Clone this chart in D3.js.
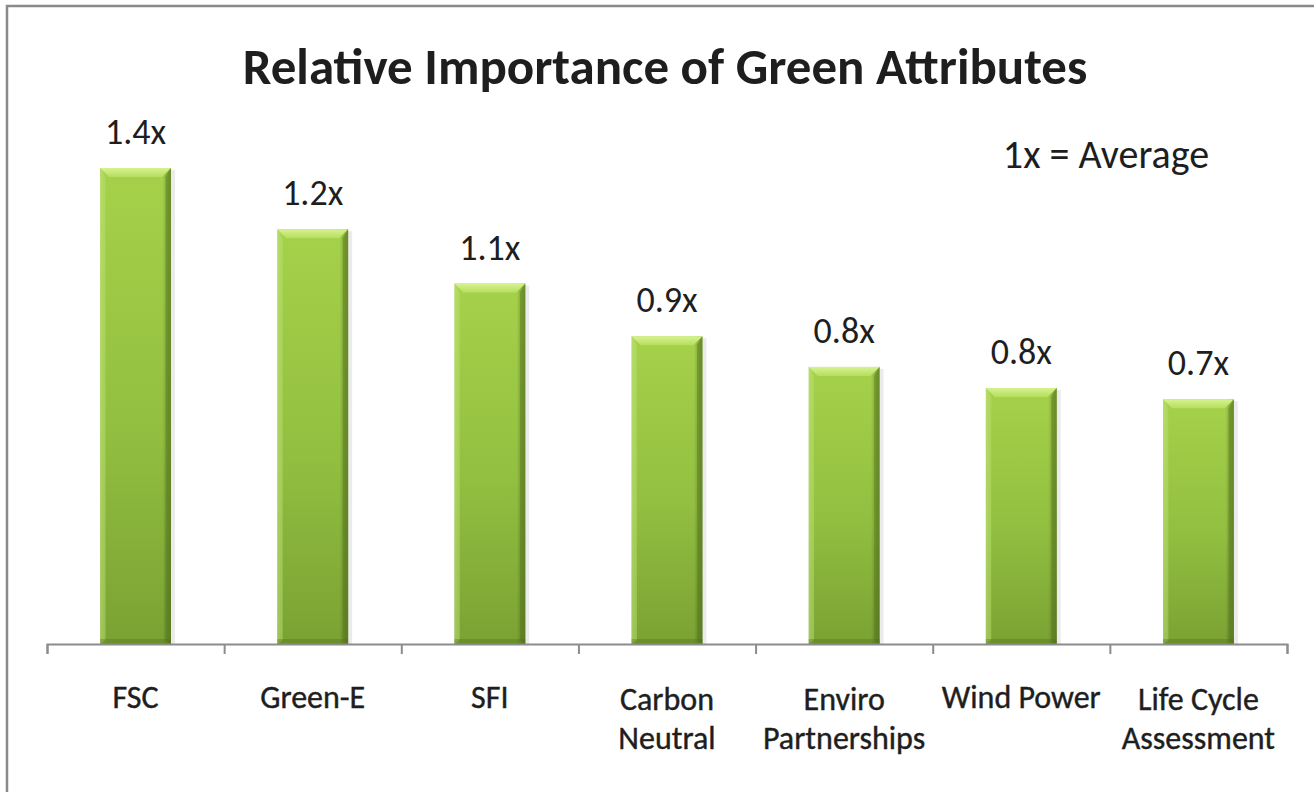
<!DOCTYPE html>
<html>
<head>
<meta charset="utf-8">
<script src="https://cdn.jsdelivr.net/npm/d3@7"></script>
<style>
  html, body { margin: 0; padding: 0; background: #fff; }
  svg { display: block; }
  text { font-family: Calibri, Carlito, Lato, "Open Sans", sans-serif; fill: #1e1e1e; }
</style>
</head>
<body>
<svg id="chart" width="1314" height="792"></svg>
<script>
// ---- data ----
const categories = ["FSC", "Green-E", "SFI", "Carbon\nNeutral", "Enviro\nPartnerships", "Wind Power", "Life Cycle\nAssessment"];
const values = [1.40, 1.22, 1.06, 0.905, 0.815, 0.753, 0.72];
const valueLabels = ["1.4x", "1.2x", "1.1x", "0.9x", "0.8x", "0.8x", "0.7x"];
const chartTitle = "Relative Importance of Green Attributes";
const noteText = "1x = Average";

// ---- layout ----
const W = 1314, H = 792;
const plot = { left: 47, right: 1287, top: 100, bottom: 644 };

const svg = d3.select("#chart");

// outer frame (extends past right/bottom edges as in reference)
svg.append("rect")
  .attr("x", 7).attr("y", 6)
  .attr("width", W + 20).attr("height", H + 20)
  .attr("fill", "#fff")
  .attr("stroke", "#8a8a8a")
  .attr("stroke-width", 2.5);

const defs = svg.append("defs");
const bodyGrad = defs.append("linearGradient").attr("id", "barBody")
  .attr("x1", 0).attr("y1", 0).attr("x2", 0).attr("y2", 1);
bodyGrad.append("stop").attr("offset", "0%").attr("stop-color", "#a5d14a");
bodyGrad.append("stop").attr("offset", "55%").attr("stop-color", "#92bf40");
bodyGrad.append("stop").attr("offset", "100%").attr("stop-color", "#7aa233");

const sideGrad = defs.append("linearGradient").attr("id", "barSide")
  .attr("x1", 0).attr("y1", 0).attr("x2", 1).attr("y2", 0);
sideGrad.append("stop").attr("offset", "0%").attr("stop-color", "#ffffff").attr("stop-opacity", 0.18);
sideGrad.append("stop").attr("offset", "8%").attr("stop-color", "#ffffff").attr("stop-opacity", 0.0);
sideGrad.append("stop").attr("offset", "88%").attr("stop-color", "#000000").attr("stop-opacity", 0.0);
sideGrad.append("stop").attr("offset", "100%").attr("stop-color", "#2d4010").attr("stop-opacity", 0.35);

const topGrad = defs.append("linearGradient").attr("id", "barTop")
  .attr("x1", 0).attr("y1", 0).attr("x2", 0).attr("y2", 1);
topGrad.append("stop").attr("offset", "0%").attr("stop-color", "#d6f290");
topGrad.append("stop").attr("offset", "100%").attr("stop-color", "#b6de5e");

const x = d3.scaleBand()
  .domain(d3.range(categories.length))
  .range([plot.left, plot.right])
  .paddingInner(0).paddingOuter(0);

const y = d3.scaleLinear().domain([0, 1.6]).range([plot.bottom, plot.top]);

const barW = x.bandwidth() * 0.40;
const bev = 9;

const bars = svg.append("g").selectAll("g.bar")
  .data(values)
  .join("g")
  .attr("class", "bar")
  .attr("transform", (d, i) => `translate(${x(i) + (x.bandwidth() - barW) / 2},0)`);

// soft shadow
bars.append("rect")
  .attr("x", 2).attr("y", d => y(d) + 2)
  .attr("width", barW + 2).attr("height", d => y(0) - y(d) - 2)
  .attr("fill", "#000").attr("opacity", 0.08);

bars.append("rect")
  .attr("x", 0).attr("y", d => y(d))
  .attr("width", barW).attr("height", d => y(0) - y(d))
  .attr("fill", "url(#barBody)");

bars.append("rect")
  .attr("x", 0).attr("y", d => y(d))
  .attr("width", barW).attr("height", d => y(0) - y(d))
  .attr("fill", "url(#barSide)");

// top bevel
bars.append("path")
  .attr("d", d => {
    const t = y(d);
    return `M0,${t} L${barW},${t} L${barW - bev},${t + bev} L${bev},${t + bev} Z`;
  })
  .attr("fill", "url(#barTop)");
// left bevel
bars.append("path")
  .attr("d", d => {
    const t = y(d), b = y(0);
    return `M0,${t} L${bev * 0.6},${t + bev} L${bev * 0.6},${b - 4} L0,${b} Z`;
  })
  .attr("fill", "#b9df6a").attr("opacity", 0.45);
// right bevel
bars.append("path")
  .attr("d", d => {
    const t = y(d), b = y(0);
    return `M${barW},${t} L${barW - bev * 0.6},${t + bev} L${barW - bev * 0.6},${b - 4} L${barW},${b} Z`;
  })
  .attr("fill", "#56781f").attr("opacity", 0.45);
// bottom bevel
bars.append("rect")
  .attr("x", 0).attr("y", y(0) - 5)
  .attr("width", barW).attr("height", 5)
  .attr("fill", "#4e6e1c").attr("opacity", 0.35);

// value labels
svg.append("g").selectAll("text")
  .data(values)
  .join("text")
  .attr("x", (d, i) => x(i) + x.bandwidth() / 2)
  .attr("y", d => y(d) - 24)
  .attr("text-anchor", "middle")
  .attr("font-size", 36)
  .attr("fill", "#2a2a2a")
  .text((d, i) => valueLabels[i]);

// x axis with ticks at category boundaries
const xEdges = d3.scaleLinear().domain([0, categories.length]).range([plot.left, plot.right]);
const axisG = svg.append("g")
  .attr("transform", `translate(0,${plot.bottom})`)
  .call(d3.axisBottom(xEdges).ticks(categories.length).tickSize(10).tickSizeOuter(10).tickFormat(""));
axisG.select(".domain").attr("stroke", "#8c8c8c").attr("stroke-width", 2);
axisG.selectAll(".tick line").attr("stroke", "#8c8c8c").attr("stroke-width", 2);

// category labels
const catG = svg.append("g").selectAll("text")
  .data(categories)
  .join("text")
  .attr("x", (d, i) => x(i) + x.bandwidth() / 2)
  .attr("y", 708)
  .attr("text-anchor", "middle")
  .attr("font-size", 32)
  .attr("fill", "#1e1e1e")
  .attr("stroke", "#1e1e1e").attr("stroke-width", 0.4);
catG.each(function (d) {
  const lines = d.split("\n");
  const t = d3.select(this);
  lines.forEach((ln, k) => {
    t.append("tspan")
      .attr("x", t.attr("x"))
      .attr("dy", k === 0 ? (lines.length > 1 ? 2 : 0) : 39)
      .text(ln);
  });
});

// title
svg.append("text")
  .attr("x", 665).attr("y", 84)
  .attr("text-anchor", "middle")
  .attr("font-size", 51)
  .attr("font-weight", "bold")
  .attr("fill", "#111")
  .text(chartTitle);

// note
svg.append("text")
  .attr("x", 1106).attr("y", 168)
  .attr("text-anchor", "middle")
  .attr("font-size", 40)
  .attr("fill", "#2a2a2a")
  .text(noteText);
</script>
</body>
</html>
